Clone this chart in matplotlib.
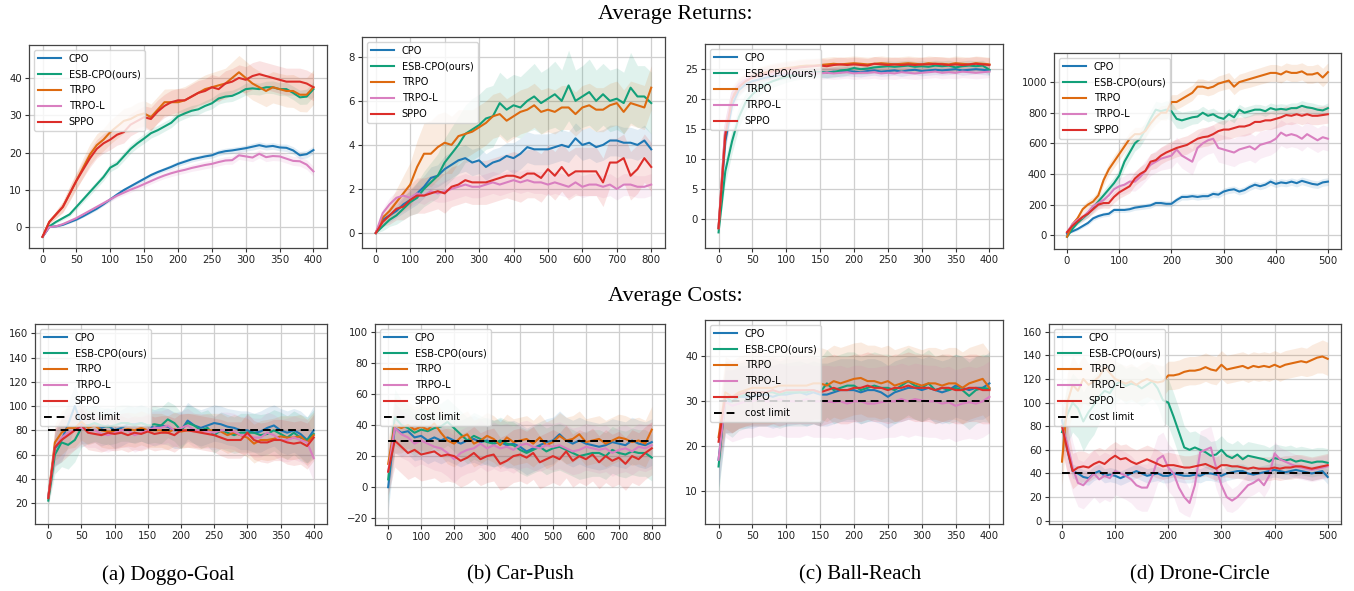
import matplotlib
matplotlib.use('Agg')
import matplotlib.pyplot as plt
import numpy as np

labels = ['CPO', 'ESB-CPO(ours)', 'TRPO', 'TRPO-L', 'SPPO']
colors = ['#1f78b4', '#12a079', '#dd6a10', '#d97fc0', '#dc2e2a']
captions = ['(a) Doggo-Goal', '(b) Car-Push', '(c) Ball-Reach', '(d) Drone-Circle']
cost_limits = [80, 30, 30, 40]

# ---------------- x grids (training epochs) ----------------
x_doggo = np.arange(0, 401, 10)
x_car = np.arange(0, 801, 20)
x_ball = np.arange(0, 401, 10)
x_drone = np.arange(0, 501, 10)

# ---------------- (a) Doggo-Goal returns ----------------
ra_cpo = [-2.5,0.1,0.3,0.7,1.4,2.1,3.0,4.0,5.0,6.2,7.5,8.8,10.0,11.0,12.0,13.0,14.0,14.8,15.5,16.2,17.0,17.6,18.2,18.6,19.0,19.3,20.0,20.4,20.6,20.9,21.2,21.6,22.0,21.6,21.8,21.4,21.3,20.6,19.3,19.6,20.7]
ra_esb = [-2.5,0.3,1.5,2.5,3.5,5.5,7.5,9.5,11.5,13.5,16.0,17.0,19.0,21.0,22.5,23.8,25.2,26.0,27.0,28.0,29.7,30.5,31.2,31.6,32.5,33.2,34.5,35.0,35.2,36.0,37.0,37.2,37.0,37.5,37.5,37.0,37.0,36.0,34.8,35.0,37.0]
ra_trpo = [-2.5,1.5,3.5,5.5,9.0,12.5,16.0,19.5,22.0,23.5,25.5,27.0,28.5,29.0,30.0,30.5,29.5,31.5,33.5,33.5,33.5,34.0,35.0,36.0,37.0,37.5,38.0,38.5,40.0,41.5,40.0,38.5,37.5,36.5,37.5,37.0,36.5,36.5,35.5,35.5,37.5]
ra_trpol = [-2.5,0.1,0.3,0.9,1.7,2.5,3.5,4.5,5.5,6.5,7.5,8.5,9.3,10.1,10.8,11.6,12.4,13.2,13.9,14.5,15.0,15.4,15.9,16.3,16.7,17.0,17.5,17.9,18.0,19.3,19.0,18.7,19.7,18.8,19.1,19.0,18.4,17.8,17.7,16.8,15.0]
ra_sppo = [-2.5,1.5,3.5,5.5,9.0,12.5,15.5,18.5,21.0,22.5,23.5,24.8,25.5,27.5,28.5,29.5,29.0,31.0,32.5,33.5,34.0,34.0,35.0,36.0,36.5,37.5,37.0,38.5,39.0,40.0,39.5,40.5,41.0,40.5,40.0,39.5,39.0,39.0,39.0,38.5,37.5]
ra_cpo_sd = [0,0.1,0.2,0.2,0.3,0.3,0.3,0.4,0.4,0.4,0.5,0.5,0.5,0.5,0.6,0.6,0.6,0.6,0.6,0.7,0.7,0.7,0.7,0.7,0.7,0.8,0.8,0.8,0.8,0.8,0.8,0.9,0.9,0.9,0.9,0.9,1.0,1.0,1.0,1.0,1.0]
ra_esb_sd = [0,0.2,0.4,0.5,0.6,0.7,0.8,0.9,1.0,1.0,1.1,1.1,1.2,1.2,1.2,1.3,1.3,1.3,1.3,1.3,1.4,1.4,1.4,1.4,1.4,1.5,1.5,1.5,1.5,1.5,1.6,1.6,1.6,1.6,1.7,1.7,1.8,1.8,1.9,2.0,2.0]
ra_trpo_sd = [0,0.5,1.0,1.5,2.0,2.3,2.6,2.8,3.0,3.0,3.2,3.2,3.3,3.3,3.4,3.4,3.5,3.5,3.5,3.6,3.6,3.7,3.7,3.8,3.8,3.9,4.0,4.1,4.3,4.5,4.5,4.4,4.3,4.2,4.2,4.2,4.3,4.4,4.5,4.6,4.6]
ra_trpol_sd = [0,0.1,0.2,0.3,0.4,0.4,0.5,0.5,0.5,0.6,0.6,0.6,0.7,0.7,0.7,0.8,0.8,0.8,0.8,0.9,0.9,0.9,0.9,1.0,1.0,1.0,1.0,1.0,1.1,1.1,1.1,1.1,1.1,1.2,1.2,1.2,1.2,1.2,1.3,1.3,1.3]
ra_sppo_sd = [0,0.5,1.0,1.4,1.8,2.0,2.2,2.4,2.5,2.6,2.7,2.8,2.9,3.0,3.0,3.0,3.1,3.1,3.1,3.2,3.2,3.2,3.3,3.3,3.3,3.4,3.4,3.4,3.5,3.5,3.5,3.6,3.6,3.6,3.6,3.6,3.6,3.6,3.6,3.6,3.6]

# ---------------- (b) Car-Push returns ----------------
rb_cpo = [0,0.6,0.8,1.0,1.3,1.5,1.8,2.1,2.5,2.6,2.9,3.1,3.3,3.4,3.2,3.3,3.0,3.2,3.3,3.5,3.4,3.6,3.9,3.8,3.8,3.8,3.9,4.0,3.9,4.3,4.0,4.1,3.9,4.0,4.2,4.2,4.1,4.1,4.0,4.2,3.8]
rb_esb = [0,0.3,0.6,0.8,1.1,1.4,1.6,2.0,2.3,2.6,3.2,3.6,4.0,4.5,4.7,4.9,5.2,5.3,5.9,5.6,5.8,5.7,6.0,6.2,5.9,6.1,6.3,6.0,6.7,6.0,6.2,6.4,6.0,6.3,6.0,6.1,5.9,6.6,6.2,6.2,5.9]
rb_trpo = [0,0.7,1.0,1.4,1.8,2.2,3.0,3.6,3.6,3.9,4.1,4.0,4.4,4.5,4.6,4.8,5.0,5.3,5.4,5.1,5.3,5.5,5.6,5.8,5.5,5.6,5.5,5.7,5.7,5.4,5.7,5.8,5.6,5.6,5.8,5.9,5.5,5.9,5.8,5.7,6.6]
rb_trpol = [0,0.9,1.3,1.6,1.7,1.6,1.8,1.7,1.9,1.8,1.9,2.0,2.1,2.2,2.1,2.1,2.2,2.3,2.2,2.3,2.4,2.3,2.4,2.3,2.3,2.2,2.3,2.2,2.1,2.3,2.1,2.2,2.2,2.1,2.2,2.0,2.2,2.2,2.1,2.1,2.2]
rb_sppo = [0,0.5,0.8,1.1,1.2,1.5,1.7,1.7,1.8,1.9,1.8,2.1,2.2,2.4,2.3,2.3,2.3,2.4,2.5,2.6,2.6,2.5,2.7,2.7,2.5,2.9,2.6,3.0,2.6,2.8,2.8,2.8,2.8,2.3,3.2,3.2,3.4,2.6,2.9,3.4,3.0]
rb_cpo_sd = [0,0.2,0.3,0.3,0.4,0.4,0.5,0.5,0.5,0.5,0.6,0.6,0.6,0.6,0.6,0.6,0.6,0.6,0.6,0.6,0.7,0.7,0.7,0.7,0.7,0.7,0.7,0.7,0.7,0.7,0.7,0.7,0.7,0.7,0.7,0.7,0.7,0.7,0.7,0.7,0.7]
rb_esb_sd = [0,0.2,0.3,0.4,0.5,0.6,0.7,0.8,0.9,1.0,1.1,1.2,1.3,1.3,1.4,1.4,1.4,1.4,1.4,1.4,1.4,1.4,1.4,1.5,1.4,1.4,1.5,1.4,1.6,1.4,1.4,1.5,1.4,1.4,1.4,1.4,1.4,1.6,1.4,1.4,1.4]
rb_trpo_sd = [0,0.3,0.4,0.6,0.8,1.0,1.2,1.4,1.5,1.5,1.4,1.3,1.2,1.1,1.0,1.0,1.0,1.0,1.0,1.0,1.0,1.0,1.0,1.0,1.0,1.0,1.0,1.0,1.0,1.0,1.0,1.0,1.0,1.0,1.0,1.0,1.0,1.0,1.0,1.0,1.0]
rb_trpol_sd = [0,0.2,0.3,0.3,0.4,0.4,0.4,0.4,0.4,0.4,0.5,0.5,0.5,0.5,0.5,0.5,0.5,0.5,0.5,0.5,0.5,0.5,0.5,0.5,0.5,0.5,0.5,0.5,0.5,0.5,0.5,0.5,0.5,0.5,0.5,0.5,0.5,0.5,0.5,0.5,0.5]
rb_sppo_sd = [0,0.2,0.4,0.5,0.6,0.7,0.8,0.8,0.8,0.8,0.9,0.9,0.9,1.0,1.0,1.0,1.0,1.0,1.0,1.0,1.1,1.1,1.1,1.1,1.1,1.1,1.1,1.1,1.1,1.1,1.1,1.1,1.1,1.1,1.1,1.1,1.1,1.1,1.1,1.1,1.1]

# ---------------- (c) Ball-Reach returns ----------------
rc_cpo = [-1.5,13.0,19.0,21.5,22.5,23.0,23.3,23.6,23.8,24.0,24.1,24.2,24.3,24.4,24.4,24.5,24.4,24.6,24.5,24.7,24.6,24.5,24.7,24.8,24.6,24.7,24.8,24.6,24.8,24.9,24.7,24.8,24.9,24.8,24.9,25.0,24.8,24.9,25.0,24.9,24.8]
rc_esb = [-2.2,8.0,13.0,17.0,19.5,20.8,21.8,22.5,23.0,23.4,23.7,24.0,24.2,24.3,24.4,24.5,24.4,24.5,24.8,24.9,25.2,25.0,25.1,25.3,25.4,25.5,25.4,25.5,25.6,25.4,25.5,25.4,25.6,25.5,25.6,25.3,25.5,25.6,25.5,25.6,24.9]
rc_trpo = [-1.5,15.0,20.5,22.3,23.2,23.8,24.2,24.5,24.8,25.0,25.2,25.3,25.5,25.6,25.6,25.7,25.8,25.9,25.8,25.9,26.0,25.9,25.8,25.9,26.0,25.9,25.8,25.9,26.0,25.9,25.8,26.0,25.9,25.9,25.8,26.0,25.9,25.8,26.0,25.9,25.8]
rc_trpol = [-1.5,15.5,21.0,22.5,23.3,23.7,24.0,24.1,24.2,24.2,24.3,24.3,24.3,24.3,24.3,24.3,24.4,24.3,24.4,24.5,24.3,24.4,24.4,24.5,24.3,24.4,24.3,24.5,24.4,24.3,24.4,24.5,24.6,24.4,24.5,24.4,24.6,24.5,24.4,24.5,24.6]
rc_sppo = [-1.5,14.0,20.0,22.0,23.0,23.6,24.0,24.3,24.6,24.8,25.0,25.1,25.3,25.4,25.5,25.6,25.5,25.7,25.8,25.7,25.8,25.7,25.6,25.9,25.8,25.7,25.8,25.7,25.8,25.7,25.8,25.8,25.9,25.8,25.7,25.8,25.7,25.8,25.9,25.8,25.7]
rc_cpo_sd = [0.3,1.5,1.2,1.0,0.9,0.9,0.8,0.8,0.8,0.8,0.8,0.8,0.8,0.8,0.8,0.8,0.8,0.8,0.8,0.8,0.8,0.8,0.8,0.8,0.8,0.8,0.8,0.8,0.8,0.8,0.8,0.8,0.8,0.8,0.8,0.8,0.8,0.8,0.8,0.8,0.8]
rc_esb_sd = [0.3,2.0,2.0,1.8,1.5,1.3,1.2,1.1,1.0,1.0,0.9,0.9,0.9,0.9,0.9,0.9,0.9,0.9,0.9,0.9,0.9,0.9,0.9,0.9,0.9,0.9,0.9,0.9,0.9,0.9,0.9,0.9,0.9,0.9,0.9,0.9,0.9,0.9,0.9,0.9,0.9]
rc_trpo_sd = [0.3,2.0,1.5,1.3,1.2,1.2,1.2,1.2,1.2,1.2,1.2,1.2,1.2,1.2,1.2,1.2,1.2,1.2,1.2,1.2,1.2,1.2,1.2,1.2,1.2,1.2,1.2,1.2,1.2,1.2,1.2,1.2,1.2,1.2,1.2,1.2,1.2,1.2,1.2,1.2,1.2]
rc_trpol_sd = [0.3,1.5,1.2,1.0,1.0,1.0,1.0,1.0,1.0,1.0,1.0,1.0,1.0,1.0,1.0,1.0,1.0,1.0,1.0,1.0,1.0,1.0,1.0,1.0,1.0,1.0,1.0,1.0,1.0,1.0,1.0,1.0,1.0,1.0,1.0,1.0,1.0,1.0,1.0,1.0,1.0]
rc_sppo_sd = [0.3,2.0,1.5,1.3,1.2,1.2,1.2,1.2,1.2,1.2,1.2,1.2,1.2,1.2,1.2,1.2,1.2,1.2,1.2,1.2,1.2,1.2,1.2,1.2,1.2,1.2,1.2,1.2,1.2,1.2,1.2,1.2,1.2,1.2,1.2,1.2,1.2,1.2,1.2,1.2,1.2]

# ---------------- (d) Drone-Circle returns ----------------
rd_cpo = [10,25,40,60,80,110,125,135,140,165,165,165,170,180,185,190,195,210,210,205,205,230,250,250,255,250,255,255,270,265,285,295,300,285,295,315,330,320,330,350,335,345,340,350,340,355,345,335,330,345,350]
rd_esb = [-10,40,80,110,140,180,220,260,300,340,390,480,540,600,630,690,760,820,810,820,810,760,750,760,770,775,800,780,790,770,760,790,770,820,800,810,820,820,810,830,820,825,820,830,830,845,835,830,820,815,830]
rd_trpo = [-10,70,110,170,200,220,260,360,430,480,530,580,630,660,660,680,730,770,800,800,870,870,890,910,930,970,970,960,970,990,1000,1010,970,1000,1010,1020,1030,1040,1050,1060,1060,1050,1070,1060,1060,1070,1050,1050,1060,1030,1065]
rd_trpol = [20,70,100,115,150,190,210,230,260,300,320,330,350,350,380,420,460,480,500,510,520,560,520,500,480,570,600,620,630,570,560,550,540,560,570,580,560,590,600,610,630,670,650,660,650,630,660,640,620,640,630]
rd_sppo = [20,60,90,120,140,170,200,210,210,250,280,300,320,370,400,420,480,490,520,540,555,570,580,590,610,630,640,645,660,680,690,690,700,710,710,720,740,740,750,750,760,770,785,780,790,780,790,780,780,785,790]
rd_cpo_sd = [5,8,10,12,14,15,15,15,16,16,16,17,17,17,18,18,18,18,19,19,19,20,20,20,20,21,21,21,21,22,22,22,22,22,23,23,23,23,23,24,24,24,24,24,25,25,25,25,25,25,25]
rd_esb_sd = [5,10,15,20,25,30,32,35,38,40,42,45,48,50,52,55,55,55,55,58,60,60,55,50,45,45,42,40,40,38,38,36,36,35,35,35,35,34,34,34,34,34,34,34,34,34,34,34,34,34,34]
rd_trpo_sd = [5,15,20,25,28,30,32,35,38,40,40,42,42,44,44,45,45,46,46,48,48,48,50,50,50,50,50,50,50,50,50,52,52,52,52,54,54,54,55,55,55,55,55,56,56,56,58,58,58,60,60]
rd_trpol_sd = [5,15,20,25,28,30,35,40,45,50,55,58,60,62,65,68,70,72,75,78,80,80,82,84,85,88,90,90,90,92,92,92,92,90,90,90,88,88,86,86,84,84,82,82,80,80,80,80,80,80,80]
rd_sppo_sd = [5,12,18,22,25,28,30,32,35,38,40,42,44,46,48,50,52,54,55,56,58,58,60,60,60,62,62,62,62,62,62,62,62,62,62,62,60,60,60,60,60,60,60,58,58,58,58,58,58,58,58]

# ---------------- (e) Doggo-Goal costs ----------------
ca_cpo = [25,65,72,85,100,85,84,85,82,84,80,82,85,85,86,84,82,84,83,80,80,88,84,82,84,86,85,83,82,80,80,78,79,82,84,80,78,80,77,72,80]
ca_esb = [22,60,70,68,72,82,84,86,84,83,84,86,86,84,86,84,85,84,89,86,80,86,84,80,82,76,80,78,76,78,78,78,76,77,80,77,74,78,74,72,77]
ca_trpo = [25,70,78,82,82,87,82,84,80,79,79,80,81,80,82,80,80,80,78,81,79,80,80,79,80,80,79,76,78,76,74,69,72,72,73,75,74,74,75,70,76]
ca_trpol = [25,66,74,78,80,82,80,80,77,76,78,80,80,76,78,80,82,82,84,80,82,84,80,80,79,78,80,80,79,76,76,74,74,78,76,72,72,74,72,70,57]
ca_sppo = [24,66,72,76,80,84,78,77,76,78,77,78,76,78,77,79,77,78,78,76,80,80,79,78,77,76,74,72,72,72,78,72,70,70,72,72,70,69,70,67,74]
ca_cpo_sd = [5,15,18,18,17,16,15,15,15,15,15,15,15,15,15,15,15,15,15,15,15,15,15,15,15,15,15,15,15,16,16,16,17,17,17,18,18,18,19,19,20]
ca_esb_sd = [5,16,20,20,18,16,15,15,15,15,15,15,15,15,15,15,15,15,15,15,15,15,15,15,15,15,15,15,15,16,16,16,17,17,17,18,18,18,19,19,20]
ca_trpo_sd = [5,15,18,17,16,15,14,14,14,14,14,14,14,14,14,14,14,14,14,14,14,14,14,14,14,14,15,15,15,15,16,16,16,17,17,17,18,18,18,19,19]
ca_trpol_sd = [5,15,18,17,16,15,14,14,14,14,14,14,14,14,14,14,14,14,14,14,14,14,14,14,14,14,15,15,15,15,16,16,16,17,17,17,18,18,18,19,19]
ca_sppo_sd = [5,15,18,17,16,15,14,14,14,14,14,14,14,14,14,14,14,14,14,14,14,14,14,14,14,14,15,15,15,15,16,16,16,17,17,17,18,18,18,19,19]

# ---------------- (f) Car-Push costs ----------------
cb_cpo = [0,38,35,36,32,33,30,32,30,32,30,28,30,31,29,30,28,29,27,28,26,23,25,27,29,30,34,30,28,30,28,27,26,27,29,28,27,30,28,27,29]
cb_esb = [5,45,40,38,35,37,36,38,39,42,38,34,30,33,31,29,28,30,28,27,24,22,24,26,23,25,26,24,22,20,21,22,22,20,24,22,21,23,22,22,19]
cb_trpo = [15,40,38,40,37,39,37,41,35,30,28,32,34,28,30,33,31,27,32,29,30,31,28,32,27,29,33,30,31,34,29,30,31,28,30,32,31,29,30,28,37]
cb_trpol = [10,38,34,32,28,30,28,26,25,22,18,22,24,25,28,25,27,25,26,24,27,28,26,25,27,26,27,25,23,24,26,25,24,25,22,24,25,23,26,25,27]
cb_sppo = [10,30,26,22,24,21,22,23,20,21,20,17,19,22,18,20,21,15,17,20,21,19,22,16,18,20,18,23,17,20,18,21,16,20,17,19,15,20,18,22,25]
cb_cpo_sd = [15,16,15,15,15,15,15,15,15,15,15,15,15,15,15,15,15,15,15,15,15,15,15,15,15,15,15,15,15,15,15,15,15,15,15,15,15,15,15,15,15]
cb_esb_sd = [15,18,16,15,15,15,15,15,15,15,15,15,15,15,15,15,15,15,15,15,15,15,15,15,15,15,15,15,15,15,15,15,15,15,15,15,15,15,15,15,15]
cb_trpo_sd = [15,18,16,15,15,15,15,15,15,15,15,15,15,15,15,15,15,15,15,15,15,15,15,15,15,15,15,15,15,15,15,15,15,15,15,15,15,15,15,15,15]
cb_trpol_sd = [15,16,15,15,15,15,15,15,15,15,15,15,15,15,15,15,15,15,15,15,15,15,15,15,15,15,15,15,15,15,15,15,15,15,15,15,15,15,15,15,15]
cb_sppo_sd = [15,17,17,17,17,17,17,17,17,17,17,17,17,17,17,17,17,17,17,17,17,17,17,17,17,17,17,17,17,17,17,17,17,17,17,17,17,17,17,17,17]

# ---------------- (g) Ball-Reach costs ----------------
cc_cpo = [17,30,30,31,31,31,31.5,31.5,31,31.5,31.5,31.8,32,31.5,32,31.5,31.5,32,32.5,32.5,32.5,32,32.5,32.5,32,31,32,32.5,33,33,32.5,33,32.5,32,32.5,33.5,33,32.5,33,33,34]
cc_esb = [15.5,31,30,31,31.5,32,32,32,32,31.5,32,32,32,32,32.5,32,34,32.5,33,33.5,33.5,32.5,33,33.5,33,33,32.5,33.5,34.5,33.5,33,34,32.5,33,32.5,33,32.5,31.2,32.5,33,32.8]
cc_trpo = [22,32,31,32,32.5,33,33,33,33,33.5,33.5,33.5,33.5,33.5,34,34,33.5,34.5,34,34.5,35,35.2,34.5,34.5,34,34.5,33.5,34,34.5,34,33.5,34,34,33.5,34,34,33,34,34.5,35,33]
cc_trpol = [17,30,29,29.5,30,30,30.5,30,30,30.5,30,30,30,30.5,30,30,30,29.8,30,29.5,30,30,29.5,29.5,29.8,30,30,30.5,30,30.5,30.2,30,30,29.5,29.8,29,29.5,29.8,29.5,30,31]
cc_sppo = [21,31,31,31.5,32,32,32,32,32.5,32,32.5,32.5,32.5,32.5,32.5,32,32.5,33,32.5,32.5,33,33,33.5,33,33,32.5,33,33,33.5,33,33,33,32.5,33,33,32.5,32.5,33,33,32.5,32.5]
cc_cpo_sd = [6,7,7,7,7,7,7,7,7,7,7,7,7,7,7,7,7,7,7,7,7,7,7,7,7,7,7,7,7,7,7,7,7,7,7,7,7,7,7,7,7]
cc_esb_sd = [6,8,8,7.5,7.5,7.5,7.5,7.5,7.5,7.5,7.5,7.5,7.5,7.5,7.5,7.5,7.5,7.5,7.5,7.5,7.5,7.5,7.5,7.5,7.5,7.5,7.5,7.5,7.5,7.5,7.5,7.5,7.5,7.5,7.5,7.5,7.5,7.5,7.5,7.5,7.5]
cc_trpo_sd = [6,8,8,8,8,8,8,8,8,8,8,8,8,8,8,8,8,8,8,8,8,8,8,8,8,8,8,8,8,8,8,8,8,8,8,8,8,8,8,8,8]
cc_trpol_sd = [6,8,8,8,8,8,8,8,8,8,8,8,8,8,8,8,8,8,8,8,8,8,8,8,8,8,8,8,8,8,8,8,8,8,8,8,8,8,8,8,8]
cc_sppo_sd = [6,8,8,7.5,7.5,7.5,7.5,7.5,7.5,7.5,7.5,7.5,7.5,7.5,7.5,7.5,7.5,7.5,7.5,7.5,7.5,7.5,7.5,7.5,7.5,7.5,7.5,7.5,7.5,7.5,7.5,7.5,7.5,7.5,7.5,7.5,7.5,7.5,7.5,7.5,7.5]

# ---------------- (h) Drone-Circle costs ----------------
cd_cpo = [85,60,42,40,37,36,40,42,38,39,38,36,38,40,42,40,38,39,40,38,38,40,39,38,38,39,38,40,40,39,38,40,41,42,42,40,39,40,41,42,43,42,41,42,43,42,41,40,41,42,37]
cd_esb = [75,90,100,95,84,92,98,105,110,108,115,118,114,116,115,112,115,118,112,102,100,88,75,62,60,62,60,58,55,56,60,55,53,56,52,55,54,53,52,50,53,52,51,52,50,51,50,49,50,50,49]
cd_trpo = [50,100,115,110,120,115,118,122,130,125,120,118,116,118,115,118,120,118,117,118,123,123,124,126,127,127,128,130,128,127,132,128,129,130,131,129,131,130,131,130,132,130,132,133,134,135,134,136,138,139,137]
cd_trpol = [80,65,45,32,30,35,40,35,38,36,42,40,38,35,30,28,28,38,52,55,45,40,28,20,15,30,58,60,62,45,30,20,17,20,25,30,32,35,30,38,57,52,50,48,46,45,44,43,44,45,46]
cd_sppo = [80,60,42,45,46,45,48,50,48,52,55,52,53,50,48,50,52,50,48,46,47,47,46,45,45,46,47,48,46,44,47,47,46,46,45,44,45,44,44,44,45,44,45,45,46,46,45,44,45,46,47]
cd_cpo_sd = [10,8,6,6,6,6,6,6,6,6,6,6,6,6,6,6,6,6,6,6,6,6,6,6,6,6,6,6,6,6,6,6,6,6,6,6,6,6,6,6,6,6,6,6,6,6,6,6,6,6,6]
cd_esb_sd = [20,25,25,25,25,25,25,22,20,18,16,15,15,15,15,15,15,15,15,18,20,20,20,18,15,14,13,13,12,12,12,12,12,12,12,12,12,12,12,12,12,12,12,12,12,12,12,12,12,12,12]
cd_trpo_sd = [20,25,25,22,20,18,16,15,15,15,15,15,15,15,15,15,15,15,15,13,12,12,12,12,12,12,12,12,12,12,12,12,12,12,12,12,12,12,12,12,12,12,12,12,12,12,12,13,13,14,14]
cd_trpol_sd = [20,25,22,20,20,20,20,20,20,20,20,20,20,20,20,20,20,20,20,20,20,20,20,15,12,15,18,18,18,18,15,12,10,10,10,10,10,10,10,10,10,10,10,10,10,10,10,10,10,10,10]
cd_sppo_sd = [20,20,15,14,13,12,12,12,12,12,12,12,12,12,12,12,12,12,12,11,11,10,10,10,10,10,10,10,10,10,10,10,10,10,10,10,10,10,10,10,10,10,10,10,10,10,10,10,10,10,10]

# ---------------- figure ----------------
W, H = 1354, 591
fig = plt.figure(figsize=(W / 100, H / 100), dpi=100)


def add_ax(l, r, t, b):
    return fig.add_axes([l / W, 1 - b / H, (r - l) / W, (b - t) / H])


def draw(ax, x, means, sds, xlim, ylim, xticks, yticks, limit=None):
    ax.set_axisbelow(True)
    ax.grid(True, color='#cfcfcf', lw=0.9)
    for m, s, c, lab in zip(means, sds, colors, labels):
        m = np.asarray(m, float)
        s = np.asarray(s, float)
        ax.fill_between(x, m - s, m + s, color=c, alpha=0.13, lw=0)
        ax.plot(x, m, color=c, lw=1.5, label=lab)
    if limit is not None:
        ax.plot([x[0], x[-1]], [limit, limit], color='black', ls='--', lw=1.4,
                dashes=(4, 2.5), label='cost limit', zorder=5)
    ax.set_xlim(*xlim)
    ax.set_ylim(*ylim)
    ax.set_xticks(xticks)
    ax.set_yticks(yticks)
    ax.tick_params(labelsize=7.3, length=3, width=0.8, color='#333333', pad=2,
                   labelcolor='#222222')
    for sp in ax.spines.values():
        sp.set_color('#444444')
        sp.set_linewidth(0.9)
    ax.legend(loc='upper left', fontsize=7.0, handlelength=2.4, handletextpad=0.8,
              labelspacing=0.6, borderaxespad=0.5, framealpha=0.8)


axa = add_ax(29, 327, 45, 248)
draw(axa, x_doggo, [ra_cpo, ra_esb, ra_trpo, ra_trpol, ra_sppo],
     [ra_cpo_sd, ra_esb_sd, ra_trpo_sd, ra_trpol_sd, ra_sppo_sd],
     (-20, 420), (-5.5, 48.8), range(0, 401, 50), range(0, 41, 10))

axb = add_ax(362, 665, 37, 248)
draw(axb, x_car, [rb_cpo, rb_esb, rb_trpo, rb_trpol, rb_sppo],
     [rb_cpo_sd, rb_esb_sd, rb_trpo_sd, rb_trpol_sd, rb_sppo_sd],
     (-40, 840), (-0.68, 8.9), range(0, 801, 100), range(0, 9, 2))

axc = add_ax(705, 1003, 44, 248)
draw(axc, x_ball, [rc_cpo, rc_esb, rc_trpo, rc_trpol, rc_sppo],
     [rc_cpo_sd, rc_esb_sd, rc_trpo_sd, rc_trpol_sd, rc_sppo_sd],
     (-20, 420), (-4.8, 29.2), range(0, 401, 50), range(0, 26, 5))

axd = add_ax(1054, 1341, 53, 249)
draw(axd, x_drone, [rd_cpo, rd_esb, rd_trpo, rd_trpol, rd_sppo],
     [rd_cpo_sd, rd_esb_sd, rd_trpo_sd, rd_trpol_sd, rd_sppo_sd],
     (-25, 525), (-90, 1190), range(0, 501, 100), range(0, 1001, 200))

axe = add_ax(35, 327, 324, 524)
draw(axe, x_doggo, [ca_cpo, ca_esb, ca_trpo, ca_trpol, ca_sppo],
     [ca_cpo_sd, ca_esb_sd, ca_trpo_sd, ca_trpol_sd, ca_sppo_sd],
     (-20, 420), (2.7, 167.7), range(0, 401, 50), range(20, 161, 20), cost_limits[0])

axf = add_ax(375, 665, 324, 525)
draw(axf, x_car, [cb_cpo, cb_esb, cb_trpo, cb_trpol, cb_sppo],
     [cb_cpo_sd, cb_esb_sd, cb_trpo_sd, cb_trpol_sd, cb_sppo_sd],
     (-40, 840), (-24.3, 104.9), range(0, 801, 100), range(-20, 101, 20), cost_limits[1])

axg = add_ax(705, 1003, 320, 524)
draw(axg, x_ball, [cc_cpo, cc_esb, cc_trpo, cc_trpol, cc_sppo],
     [cc_cpo_sd, cc_esb_sd, cc_trpo_sd, cc_trpol_sd, cc_sppo_sd],
     (-20, 420), (2.7, 48.1), range(0, 401, 50), range(10, 41, 10), cost_limits[2])

axh = add_ax(1049, 1341, 324, 524)
draw(axh, x_drone, [cd_cpo, cd_esb, cd_trpo, cd_trpol, cd_sppo],
     [cd_cpo_sd, cd_esb_sd, cd_trpo_sd, cd_trpol_sd, cd_sppo_sd],
     (-24.5, 525), (-2.8, 166.5), range(0, 501, 100), range(0, 161, 20), cost_limits[3])

serif = ['Liberation Serif', 'DejaVu Serif']
fig.text(675 / W, 1 - 14 / H, 'Average Returns:', ha='center', va='center',
         family=serif, fontsize=16)
fig.text(675 / W, 1 - 296 / H, 'Average Costs:', ha='center', va='center',
         family=serif, fontsize=16)
for cx, cap in zip([168, 520, 860, 1200], captions):
    fig.text(cx / W, 1 - 575 / H, cap, ha='center', va='center', family=serif,
             fontsize=15)

fig.savefig('out.png', dpi=100)
